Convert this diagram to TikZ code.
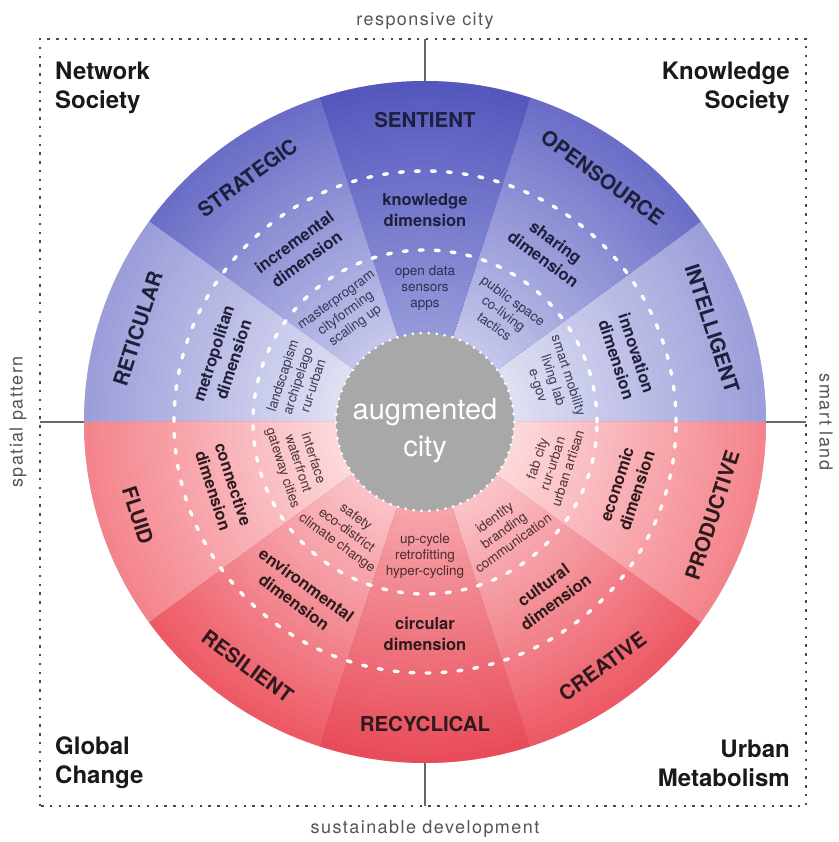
\documentclass[tikz,border=0pt]{standalone}
\usepackage{fontspec}
\setmainfont{TeX Gyre Heros}
\definecolor{bDarkO}{HTML}{5458BD}
\definecolor{bDarkI}{HTML}{979BDB}
\definecolor{bMedO}{HTML}{6A6EC6}
\definecolor{bMedI}{HTML}{C6C8EB}
\definecolor{bLightO}{HTML}{9C9EDA}
\definecolor{bLightI}{HTML}{E0E1F3}
\definecolor{rDarkO}{HTML}{E84C5A}
\definecolor{rDarkI}{HTML}{F6A6AC}
\definecolor{rMedO}{HTML}{ED5A66}
\definecolor{rMedI}{HTML}{FAC6C9}
\definecolor{rLightO}{HTML}{F4848C}
\definecolor{rLightI}{HTML}{FDDBDD}
\definecolor{hub}{HTML}{A8A8A8}
\definecolor{inkB}{HTML}{1F1F3C}
\definecolor{inkR}{HTML}{2E1A1D}
\definecolor{sidegray}{HTML}{555555}
\definecolor{framegray}{HTML}{4A4A4A}
\definecolor{basefill}{HTML}{C9A9C9}
\begin{document}
\begin{tikzpicture}[x=1pt,y=1pt,
  outerlbl/.style={font=\fontsize{20.5}{22}\selectfont\bfseries, inner sep=0pt},
  midlbl/.style={font=\fontsize{16.5}{21}\selectfont\bfseries, align=center, inner sep=0pt},
  innerlbl/.style={font=\fontsize{13.5}{16}\selectfont, align=center, inner sep=0pt, opacity=0.85, text opacity=0.85},
  cornerlbl/.style={font=\fontsize{24}{29}\selectfont\bfseries, text=black!90, inner sep=0pt},
  sidelbl/.style={font=\fontsize{18}{20}\selectfont\addfontfeature{LetterSpace=8}, text=sidegray, inner sep=0pt},
  axisline/.style={draw=black!60, line width=1.5pt},
  frame/.style={draw=framegray, line width=2.4pt, dash pattern=on 2.4pt off 6.4pt},
  ringdash/.style={draw=white, line width=3.4pt, line cap=round, dash pattern=on 4pt off 12pt},
  hubdots/.style={draw=white, line width=3pt, line cap=round, dash pattern=on 0pt off 8pt},
]
\useasboundingbox (-425,-420) rectangle (413,422);

% frame
\draw[frame] (-385,-384) rectangle (381,383);

% disk base and sectors (radial colour bands)
\fill[basefill] (0,0) circle[radius=341];
\foreach \a/\cO/\cI in {0/bLightO/bLightI,36/bMedO/bMedI,72/bDarkO/bDarkI,108/bMedO/bMedI,144/bLightO/bLightI,180/rLightO/rLightI,216/rMedO/rMedI,252/rDarkO/rDarkI,288/rMedO/rMedI,324/rLightO/rLightI}{
  \foreach \k in {0,...,30}{
    \pgfmathsetmacro\rr{341-\k*8.4}
    \pgfmathsetmacro\pp{100-\k*100/30}
    \fill[\cO!\pp!\cI] (0,0) -- (\a:\rr) arc[start angle=\a, end angle=\a+36, radius=\rr] -- cycle;
  }
}

% dashed rings
\draw[ringdash] (0,0) circle[radius=251];
\draw[ringdash] (0,0) circle[radius=172];

% hub
\fill[hub] (0,0) circle[radius=89];
\draw[hubdots] (0,0) circle[radius=89];
\node[font=\fontsize{29}{37}\selectfont, text=white, align=center] (hubtext) at (0,-9) {augmented\\city};

% sector labels
\foreach \n/\a/\ink/\o/\m/\i in {
  intel/18/inkB/INTELLIGENT/{innovation\\dimension}/{smart mobility\\living lab\\e-gov},
  opens/54/inkB/OPENSOURCE/{sharing\\dimension}/{public space\\co-living\\tactics},
  sent/90/inkB/SENTIENT/{knowledge\\dimension}/{open data\\sensors\\apps},
  strat/126/inkB/STRATEGIC/{incremental\\dimension}/{masterprogram\\cityforming\\scaling up},
  retic/162/inkB/RETICULAR/{metropolitan\\dimension}/{landscapism\\archipelago\\rur-urban},
  fluid/198/inkR/FLUID/{connective\\dimension}/{interface\\waterfront\\gateway cities},
  resil/234/inkR/RESILIENT/{environmental\\dimension}/{safety\\eco-district\\climate change},
  recyc/270/inkR/RECYCLICAL/{circular\\dimension}/{up-cycle\\retrofitting\\hyper-cycling},
  creat/306/inkR/CREATIVE/{cultural\\dimension}/{identity\\branding\\communication},
  prod/342/inkR/PRODUCTIVE/{economic\\dimension}/{fab city\\rur-urban\\urban artisan}}{
  \pgfmathsetmacro\rot{\a<180 ? \a-90 : \a+90}
  \node[outerlbl, text=\ink, rotate=\rot] (o\n) at (\a:302) {\o};
  \node[midlbl, text=\ink, rotate=\rot] (m\n) at (\a:212) {\m};
  \node[innerlbl, text=\ink, rotate=\rot] (i\n) at (\a:134) {\i};
}

% axis lines
\coordinate (fT) at (0,383);  \coordinate (cT) at (90:341);
\coordinate (fB) at (0,-384); \coordinate (cB) at (270:341);
\coordinate (fL) at (-385,0); \coordinate (cL) at (180:341);
\coordinate (fR) at (381,0);  \coordinate (cR) at (0:341);
\draw[axisline] (fT) -- (cT);
\draw[axisline] (fB) -- (cB);
\draw[axisline] (fL) -- (cL);
\draw[axisline] (fR) -- (cR);

% side labels
\node[sidelbl] (sTop) at (0,401) {responsive city};
\node[sidelbl] (sBot) at (0,-407) {sustainable development};
\node[sidelbl, rotate=90] (sLeft) at (-407,0) {spatial pattern};
\node[sidelbl, rotate=-90] (sRight) at (401,0) {smart land};

% corner labels
\node[cornerlbl, align=left, anchor=west] (cNW) at (-370,334) {Network\\Society};
\node[cornerlbl, align=right, anchor=east] (cNE) at (365,334) {Knowledge\\Society};
\node[cornerlbl, align=left, anchor=west] (cSW) at (-370,-341) {Global\\Change};
\node[cornerlbl, align=right, anchor=east] (cSE) at (365,-341) {Urban\\Metabolism};
\end{tikzpicture}
\end{document}
